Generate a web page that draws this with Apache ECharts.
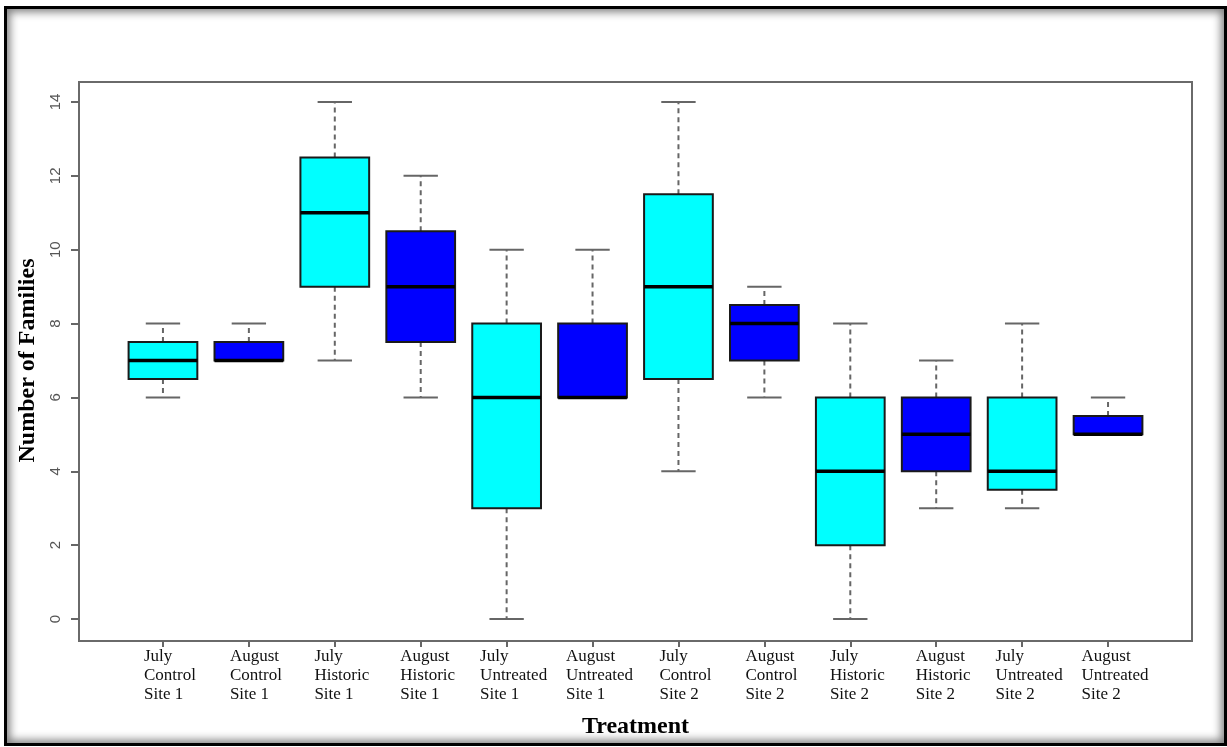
<!DOCTYPE html>
<html>
<head>
<meta charset="utf-8">
<title>Number of Families by Treatment</title>
<script src="https://cdn.jsdelivr.net/npm/echarts@6/dist/echarts.min.js"></script>
<style>
  html, body { margin: 0; padding: 0; background: #fff; }
  #wrap { position: relative; width: 1227px; height: 747px; }
  #chart { position: absolute; left: 0; top: 0; width: 1227px; height: 747px; }
  #frame {
    position: absolute; left: 4px; top: 6px; right: 0px; bottom: 1px;
    border: 3px solid #000;
    box-shadow: inset 0 0 9px 3px rgba(0,0,0,0.5);
    pointer-events: none;
  }
</style>
</head>
<body>
<div id="wrap">
  <div id="chart"></div>
  <div id="frame"></div>
</div>
<script>
// Treatment groups (month / treatment / site)
const categories = [
  'July\nControl\nSite 1', 'August\nControl\nSite 1',
  'July\nHistoric\nSite 1', 'August\nHistoric\nSite 1',
  'July\nUntreated\nSite 1', 'August\nUntreated\nSite 1',
  'July\nControl\nSite 2', 'August\nControl\nSite 2',
  'July\nHistoric\nSite 2', 'August\nHistoric\nSite 2',
  'July\nUntreated\nSite 2', 'August\nUntreated\nSite 2'
];
const months = ['July', 'August', 'July', 'August', 'July', 'August',
                'July', 'August', 'July', 'August', 'July', 'August'];

// Five-number summaries for the number of families
const whiskerLow  = [6,   7,   7,    6,    0, 6,  4,    6,   0, 3, 3,   5];
const lowerQuart  = [6.5, 7,   9,    7.5,  3, 6,  6.5,  7,   2, 4, 3.5, 5];
const medians     = [7,   7,   11,   9,    6, 6,  9,    8,   4, 5, 4,   5];
const upperQuart  = [7.5, 7.5, 12.5, 10.5, 8, 8,  11.5, 8.5, 6, 6, 6,   5.5];
const whiskerHigh = [8,   8,   14,   12,   10, 10, 14,  9,   8, 7, 8,   6];

const yTicks = [0, 2, 4, 6, 8, 10, 12, 14];

const monthFill = { July: '#00ffff', August: '#0000ff' };

const boxData = categories.map((c, i) => [
  i, whiskerLow[i], lowerQuart[i], medians[i], upperQuart[i], whiskerHigh[i]
]);

function renderBox(params, api) {
  const i = api.value(0);
  const lo = api.coord([i, api.value(1)]);
  const q1 = api.coord([i, api.value(2)]);
  const md = api.coord([i, api.value(3)]);
  const q3 = api.coord([i, api.value(4)]);
  const hi = api.coord([i, api.value(5)]);
  const band = api.size([1, 0])[0];
  const boxW = band * 0.8;
  const capW = boxW * 0.5;
  const cx = md[0];
  const whiskerStyle = { stroke: '#666', lineWidth: 2, lineDash: [5, 4] };
  const capStyle = { stroke: '#666', lineWidth: 2 };
  return {
    type: 'group',
    children: [
      { type: 'line', shape: { x1: cx, y1: q3[1], x2: cx, y2: hi[1] }, style: whiskerStyle },
      { type: 'line', shape: { x1: cx, y1: q1[1], x2: cx, y2: lo[1] }, style: whiskerStyle },
      { type: 'line', shape: { x1: cx - capW / 2, y1: hi[1], x2: cx + capW / 2, y2: hi[1] }, style: capStyle },
      { type: 'line', shape: { x1: cx - capW / 2, y1: lo[1], x2: cx + capW / 2, y2: lo[1] }, style: capStyle },
      {
        type: 'rect',
        shape: { x: cx - boxW / 2, y: q3[1], width: boxW, height: q1[1] - q3[1] },
        style: { fill: monthFill[months[i]], stroke: '#1a1a1a', lineWidth: 2 }
      },
      {
        type: 'line',
        shape: { x1: cx - boxW / 2, y1: md[1], x2: cx + boxW / 2, y2: md[1] },
        style: { stroke: '#000', lineWidth: 3.5 }
      }
    ]
  };
}

const chart = echarts.init(document.getElementById('chart'), null, { renderer: 'canvas' });

const titleFont = { fontFamily: 'Liberation Serif', fontWeight: 'bold', fontSize: 24, color: '#000' };

chart.setOption({
  animation: false,
  backgroundColor: '#fff',
  grid: [
    // data area: y from 0 to 14
    { left: 120, right: 76, top: 102, bottom: 128 },
    // plot frame
    { left: 79, top: 82, width: 1113, height: 559, show: true,
      borderColor: '#6a6a6a', borderWidth: 2, backgroundColor: 'transparent' },
    // treatment axis along the bottom of the frame
    { left: 120, right: 76, top: 82, bottom: 106 }
  ],
  xAxis: [
    { type: 'category', gridIndex: 0, data: categories, boundaryGap: true, show: false },
    { type: 'value', gridIndex: 1, show: false, min: 0, max: 1 },
    {
      type: 'category',
      gridIndex: 2,
      data: categories,
      boundaryGap: true,
      axisLine: { show: false },
      axisTick: { show: true, alignWithLabel: true, length: 6,
                  lineStyle: { color: '#666', width: 2 } },
      axisLabel: {
        interval: 0,
        margin: 6,
        align: 'center',
        formatter: v => v.split('\n').map(s => '{l|' + s + '}').join('\n'),
        rich: {
          l: { align: 'left', fontFamily: 'Liberation Serif', fontSize: 17,
               color: '#111', lineHeight: 19, padding: [0, 0, 0, 14] }
        }
      },
      name: 'Treatment',
      nameLocation: 'middle',
      nameGap: 74,
      nameTextStyle: titleFont
    }
  ],
  yAxis: [
    {
      type: 'value',
      gridIndex: 0,
      min: yTicks[0],
      max: yTicks[yTicks.length - 1],
      interval: 2,
      offset: 41,
      axisLine: { show: true, lineStyle: { color: '#6a6a6a', width: 2 } },
      axisTick: { show: true, length: 8, lineStyle: { color: '#666', width: 2 } },
      splitLine: { show: false },
      axisLabel: {
        rotate: 90,
        margin: 16,
        fontFamily: 'Liberation Sans',
        fontSize: 15,
        color: '#555'
      },
      name: 'Number of Families',
      nameLocation: 'middle',
      nameRotate: 90,
      nameGap: 29,
      nameTextStyle: titleFont
    },
    { type: 'value', gridIndex: 1, show: false, min: 0, max: 1 },
    { type: 'value', gridIndex: 2, show: false, min: 0, max: 1 }
  ],
  series: [
    {
      type: 'custom',
      xAxisIndex: 0,
      yAxisIndex: 0,
      renderItem: renderBox,
      encode: { x: 0, y: [1, 2, 3, 4, 5] },
      data: boxData,
      z: 5
    }
  ]
});
</script>
</body>
</html>
